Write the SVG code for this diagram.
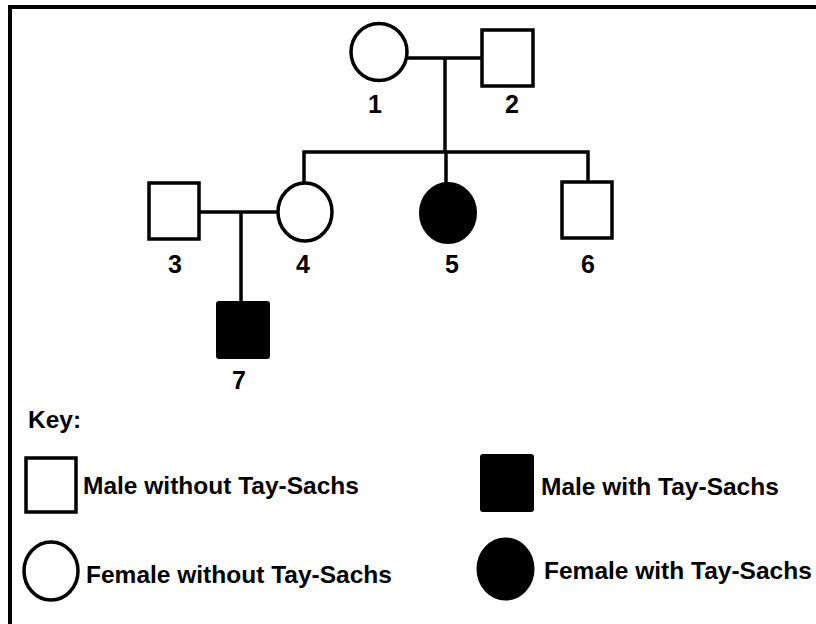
<svg xmlns="http://www.w3.org/2000/svg" width="816" height="624" viewBox="0 0 816 624">
<style>
.sh{fill:#fff;stroke:#000;stroke-width:3.5}
.af{fill:#000;stroke:#000;stroke-width:2}
.ln{stroke:#000;stroke-width:3.5;fill:none}
.lb{font-family:"Liberation Sans",Arial,sans-serif;font-weight:bold;font-size:25px;fill:#000;text-anchor:middle}
.kt{font-family:"Liberation Sans",Arial,sans-serif;font-weight:bold;font-size:24.5px;fill:#000}
</style>
<rect width="816" height="624" fill="#fff"/>
<g id="border">
<path d="M10,624 V7 H816" fill="none" stroke="#000" stroke-width="4"/>
</g>
<g id="connectors">
<line class="ln" x1="407" y1="58" x2="482" y2="58"/>
<line class="ln" x1="445" y1="58" x2="445" y2="152"/>
<polyline class="ln" points="304,184 304,152 588,152 588,182"/>
<line class="ln" x1="446" y1="152" x2="446" y2="184"/>
<line class="ln" x1="199" y1="212" x2="278" y2="212"/>
<line class="ln" x1="241" y1="212" x2="241" y2="302"/>
</g>
<g id="n1"><ellipse class="sh" cx="379" cy="52" rx="28" ry="28.5"/><text class="lb" x="375" y="113">1</text></g>
<g id="n2"><rect class="sh" x="482" y="30" width="51" height="56"/><text class="lb" x="512" y="113">2</text></g>
<g id="n3"><rect class="sh" x="149" y="183" width="50" height="56"/><text class="lb" x="175" y="273">3</text></g>
<g id="n4"><ellipse class="sh" cx="305" cy="212" rx="27" ry="29"/><text class="lb" x="303" y="273">4</text></g>
<g id="n5"><ellipse class="af" cx="448" cy="213" rx="28" ry="30"/><text class="lb" x="452" y="273">5</text></g>
<g id="n6"><rect class="sh" x="562" y="182" width="50" height="56"/><text class="lb" x="588" y="273">6</text></g>
<g id="n7"><rect class="af" x="217" y="302" width="52" height="56" rx="2"/><text class="lb" x="239" y="389">7</text></g>
<g id="key">
<text class="kt" x="28" y="428">Key:</text>
<rect class="sh" x="26" y="458" width="50" height="54"/>
<text class="kt" x="83" y="494">Male without Tay-Sachs</text>
<ellipse class="sh" cx="51" cy="571" rx="27" ry="29"/>
<text class="kt" x="86" y="583">Female without Tay-Sachs</text>
<rect class="af" x="481" y="455" width="52" height="56" rx="2"/>
<text class="kt" x="541" y="495">Male with Tay-Sachs</text>
<ellipse class="af" cx="505.5" cy="569" rx="28" ry="30.5"/>
<text class="kt" x="544" y="579">Female with Tay-Sachs</text>
</g>
</svg>
